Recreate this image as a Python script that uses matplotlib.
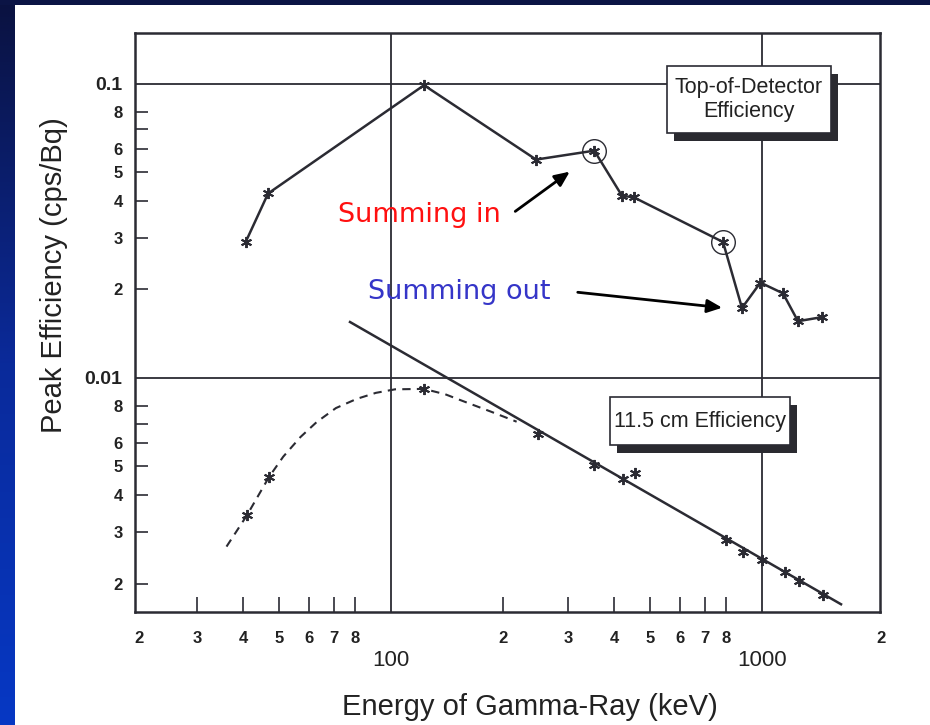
import numpy as np
import matplotlib
matplotlib.use("Agg")
import matplotlib.pyplot as plt
from matplotlib.ticker import FixedLocator, FixedFormatter
from matplotlib.patches import Rectangle

plt.rcParams['font.family'] = ['Liberation Sans Narrow', 'Liberation Sans', 'DejaVu Sans']

# top-of-detector efficiency (keV, cps/Bq)
top_energy = [40.6, 46.6, 122.7, 246, 353, 419, 452, 785, 883, 990, 1139, 1250, 1450]
top_eff = [0.0291, 0.0424, 0.099, 0.0553, 0.0593, 0.0417, 0.0411, 0.0290, 0.0173, 0.0211, 0.0194, 0.0156, 0.0161]

# summing-in points (circled)
circled_energy = [353, 785]
circled_eff = [0.0593, 0.0290]

# 11.5 cm efficiency measured points
far_energy = [40.8, 46.9, 122.7, 249, 352, 421, 455, 800, 890, 1002, 1153, 1258, 1463]
far_eff = [0.00343, 0.00461, 0.00918, 0.00646, 0.00507, 0.00452, 0.00475, 0.00281, 0.00256, 0.0024, 0.00218, 0.00204, 0.00183]

# fitted straight line (end points) and low-energy dashed curve
fit_energy = [77.5, 1633]
fit_eff = [0.0155, 0.0017]
curve_energy = [36, 40.8, 46.9, 51.2, 57, 63, 71, 80.8, 91, 102.5, 122.7, 140, 156, 185, 218]
curve_eff = [0.00267, 0.00340, 0.00461, 0.0054, 0.0063, 0.00708, 0.0079, 0.00849, 0.0089, 0.00915, 0.00918, 0.0088, 0.00835, 0.0077, 0.0071]

x_minor = [30, 40, 50, 60, 70, 80, 200, 300, 400, 500, 600, 700, 800]
x_minor_labels = ['3', '4', '5', '6', '7', '8', '2', '3', '4', '5', '6', '7', '8']
y_minor = [0.002, 0.003, 0.004, 0.005, 0.006, 0.007, 0.008,
           0.02, 0.03, 0.04, 0.05, 0.06, 0.07, 0.08]
y_minor_labels = ['2', '3', '4', '5', '6', '', '8', '2', '3', '4', '5', '6', '', '8']

ink = '#2b2b33'

fig = plt.figure(figsize=(9.3, 7.25), dpi=100, facecolor='white')

# slide decoration: dark top band and blue gradient strip on the left
fig.patches.append(plt.Rectangle((0, 1 - 5 / 725), 1, 5 / 725, transform=fig.transFigure,
                                 facecolor='#0b1445', edgecolor='none', zorder=0))
strip = fig.add_axes([0, 0, 14 / 930, 1])
grad = np.linspace(0, 1, 256).reshape(-1, 1)
cmap = matplotlib.colors.LinearSegmentedColormap.from_list('slide', ['#0a1240', '#0a2a9a', '#0638c4'])
strip.imshow(grad, aspect='auto', cmap=cmap, extent=[0, 1, 0, 1])
strip.set_axis_off()

ax = fig.add_axes([135 / 930, 1 - 612 / 725, 745 / 930, 579 / 725])
ax.set_xscale('log')
ax.set_yscale('log')
ax.set_xlim(20.4, 2080)
ax.set_ylim(0.0016, 0.149)

for v in [100, 1000]:
    ax.axvline(v, color=ink, lw=1.3, zorder=1)
for v in [0.1, 0.01]:
    ax.axhline(v, color=ink, lw=1.3, zorder=1)

ax.plot(top_energy, top_eff, color=ink, lw=1.8, marker=(6, 2, 0), ms=8, mew=1.4, zorder=3)
ax.plot(circled_energy, circled_eff, ls='none', marker='o', ms=17, mfc='none', mec=ink, mew=1.0, zorder=3)
ax.plot(fit_energy, fit_eff, color=ink, lw=1.8, zorder=3)
ax.plot(curve_energy, curve_eff, color=ink, lw=1.5, ls=(0, (4, 3)), zorder=3)
ax.plot(far_energy, far_eff, ls='none', color=ink, marker=(6, 2, 0), ms=8, mew=1.4, zorder=4)

for s in ax.spines.values():
    s.set_linewidth(1.8)
    s.set_color(ink)

ax.xaxis.set_major_locator(FixedLocator([100, 1000]))
ax.xaxis.set_major_formatter(FixedFormatter(['100', '1000']))
ax.xaxis.set_minor_locator(FixedLocator(x_minor))
ax.xaxis.set_minor_formatter(FixedFormatter(x_minor_labels))
ax.yaxis.set_major_locator(FixedLocator([0.01, 0.1]))
ax.yaxis.set_major_formatter(FixedFormatter(['0.01', '0.1']))
ax.yaxis.set_minor_locator(FixedLocator(y_minor))
ax.yaxis.set_minor_formatter(FixedFormatter(y_minor_labels))

ax.tick_params(axis='x', which='minor', direction='in', length=11, width=1.2, color=ink,
               pad=14, labelsize=12, labelcolor='#222222')
ax.tick_params(axis='x', which='major', direction='in', length=0, pad=27, labelsize=16, labelcolor='#222222')
ax.tick_params(axis='y', which='minor', direction='in', length=9, width=1.2, color=ink,
               pad=9, labelsize=12, labelcolor='#222222')
ax.tick_params(axis='y', which='major', direction='in', length=0, pad=9, labelsize=14, labelcolor='#222222')
for lbl in ax.get_xticklabels(minor=True) + ax.get_yticklabels(minor=True) + ax.get_yticklabels():
    lbl.set_fontweight('bold')
for lbl in ax.get_xticklabels():
    lbl.set_x(lbl.get_position()[0])

# edge labels "2" at 20 and 2000 keV
ax.text(0.006, -0.045, '2', transform=ax.transAxes, ha='center', va='center', fontsize=12,
        fontweight='bold', color='#222222')
ax.text(1.001, -0.045, '2', transform=ax.transAxes, ha='center', va='center', fontsize=12,
        fontweight='bold', color='#222222')

ax.set_xlabel('Energy of Gamma-Ray (keV)', fontsize=21, color='#222222')
ax.xaxis.set_label_coords(0.53, -0.14)
ax.set_ylabel('Peak Efficiency (cps/Bq)', fontsize=21, color='#222222')
ax.yaxis.set_label_coords(-0.09, 0.582)


def shadow_box(x0, y0, x1, y1, text, size):
    dx, dy = 7 / 745, 8 / 579
    ax.add_patch(Rectangle((x0 + dx, y0 - dy), x1 - x0, y1 - y0, transform=ax.transAxes,
                           facecolor='#2a2a30', edgecolor='none', zorder=5))
    ax.add_patch(Rectangle((x0, y0), x1 - x0, y1 - y0, transform=ax.transAxes,
                           facecolor='white', edgecolor=ink, lw=1.2, zorder=6))
    ax.text((x0 + x1) / 2, (y0 + y1) / 2, text, transform=ax.transAxes, ha='center', va='center',
            fontsize=size, color='#222222', linespacing=1.15, zorder=7)


shadow_box(0.714, 0.827, 0.934, 0.943, 'Top-of-Detector\nEfficiency', 15.5)
shadow_box(0.6376, 0.2884, 0.879, 0.3713, '11.5 cm Efficiency', 15.5)

ax.text(0.2725, 0.6857, 'Summing in', transform=ax.transAxes, ha='left', va='center',
        fontsize=19.5, color='#ff1010', family=['DejaVu Sans'])
ax.text(0.3128, 0.5527, 'Summing out', transform=ax.transAxes, ha='left', va='center',
        fontsize=19.5, color='#3535c8', family=['DejaVu Sans'])
ax.annotate('', xy=(0.5866, 0.7634), xytext=(0.5074, 0.6891), xycoords='axes fraction',
            arrowprops=dict(arrowstyle='-|>,head_length=0.9,head_width=0.4', color='black', lw=2))
ax.annotate('', xy=(0.7919, 0.5250), xytext=(0.5906, 0.5527), xycoords='axes fraction',
            arrowprops=dict(arrowstyle='-|>,head_length=0.9,head_width=0.4', color='black', lw=2))

fig.savefig('out.png', dpi=100, facecolor='white')
